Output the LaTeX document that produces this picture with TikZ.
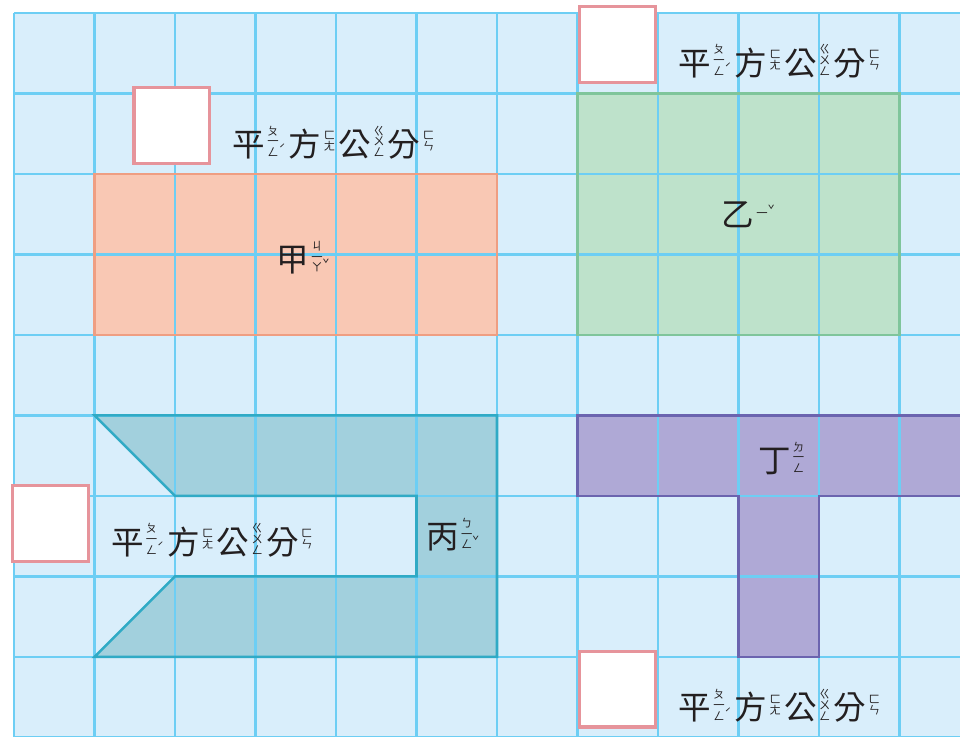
\documentclass[tikz,border=0pt]{standalone}
\usepackage{fontspec}
\setmainfont{Noto Sans CJK TC}
\usetikzlibrary{positioning}

\definecolor{paper}{HTML}{D9EEFB}
\definecolor{gridblue}{HTML}{6DCEF4}
\definecolor{boxpink}{HTML}{E6949B}
\definecolor{jiafill}{HTML}{F9C8B4}
\definecolor{jiaedge}{HTML}{EF9E82}
\definecolor{yifill}{HTML}{BEE2CB}
\definecolor{yiedge}{HTML}{7FC59B}
\definecolor{bingfill}{HTML}{A2D0DD}
\definecolor{bingedge}{HTML}{30AAC5}
\definecolor{dingfill}{HTML}{AFA9D6}
\definecolor{dingedge}{HTML}{6B64AF}
\definecolor{ink}{HTML}{231F20}

% character with stacked zhuyin and tone
\newcommand{\zystack}[1]{\vbox{\baselineskip=3.8pt\lineskiplimit=-100pt\let\\\cr\halign{\hfil##\hfil\cr#1\crcr}}}
\newcommand{\zy}[3]{#1\hspace{0.8pt}\raisebox{0.2em}{$\vcenter{\hbox{\fontsize{4}{3.8}\selectfont\zystack{#2}\raisebox{1.1pt}{#3}}}$}\hspace{1.2pt}}
\newcommand{\unitlabel}{\zy{平}{ㄆ\\一\\ㄥ}{ˊ}\zy{方}{ㄈ\\ㄤ}{}\zy{公}{ㄍ\\ㄨ\\ㄥ}{}\zy{分}{ㄈ\\ㄣ}{}}

\begin{document}
\begin{tikzpicture}[x=1cm, y=1cm,
    gridline/.style={draw=gridblue, line width=0.8pt},
    ansbox/.style={draw=boxpink, fill=white, line width=1.1pt, minimum size=0.94cm, inner sep=0pt},
    unit/.style={font=\fontsize{11.5}{12}\selectfont, text=ink, inner sep=0pt},
    shapelabel/.style={font=\fontsize{11.5}{12}\selectfont, text=ink, inner sep=0pt},
    edge/.style={line width=0.9pt, line join=miter},
  ]
  \useasboundingbox (-0.174,0.161) rectangle (11.752,-8.994);

  % squared paper
  \fill[paper] (0,0) rectangle (12,-9.5);

  % shape fills
  \fill[jiafill] (1,-2) rectangle (6,-4);
  \fill[yifill] (7,-1) rectangle (11,-4);
  \fill[bingfill] (1,-5) -- (6,-5) -- (6,-8) -- (1,-8) -- (2,-7) -- (5,-7) -- (5,-6) -- (2,-6) -- cycle;
  \fill[dingfill] (7,-5) -- (12,-5) -- (12,-6) -- (10,-6) -- (10,-8) -- (9,-8) -- (9,-6) -- (7,-6) -- cycle;

  \draw[gridline] (0,0) grid (12,-9.5);

  % shape outlines
  \draw[edge, jiaedge] (1,-2) rectangle (6,-4);
  \draw[edge, yiedge] (7,-1) rectangle (11,-4);
  \draw[edge, bingedge] (1,-5) -- (6,-5) -- (6,-8) -- (1,-8) -- (2,-7) -- (5,-7) -- (5,-6) -- (2,-6) -- cycle;
  \draw[edge, dingedge] (12.2,-5) -- (7,-5) -- (7,-6) -- (9,-6) -- (9,-8) -- (10,-8) -- (10,-6) -- (12.2,-6);

  % shape names
  \node[shapelabel] (lblJia) at (3.59,-3.04) {\zy{甲}{ㄐ\\一\\ㄚ}{ˇ}};
  \node[shapelabel] (lblYi) at (9.12,-2.51) {\zy{乙}{一}{ˇ}};
  \node[shapelabel] (lblBing) at (5.45,-6.48) {\zy{丙}{ㄅ\\一\\ㄥ}{ˇ}};
  \node[shapelabel] (lblDing) at (9.53,-5.53) {\zy{丁}{ㄉ\\一\\ㄥ}{}};

  % answer boxes
  \foreach \n/\x/\y in {Jia/1.96/-1.40, Yi/7.50/-0.39, Bing/0.45/-6.34, Ding/7.50/-8.40} {
    \node[ansbox] (box\n) at (\x,\y) {};
    \node[unit, right=0.26cm of box\n, yshift=-0.21cm] (unit\n) {\unitlabel};
  }
\end{tikzpicture}
\end{document}
